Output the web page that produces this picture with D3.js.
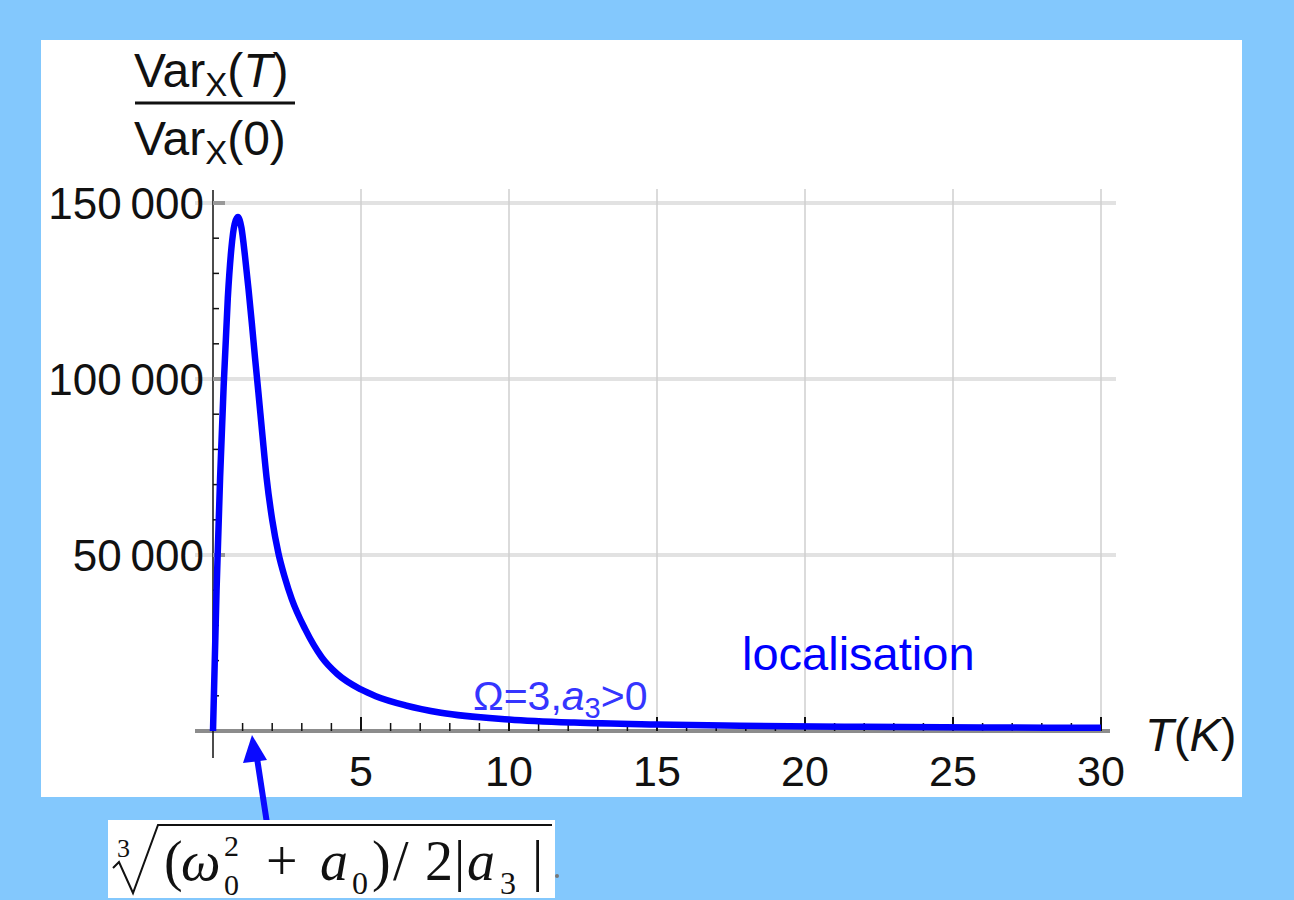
<!DOCTYPE html>
<html>
<head>
<meta charset="utf-8">
<script src="https://cdn.jsdelivr.net/npm/d3@7"></script>
<style>
  body { margin: 0; background: #83c8fd; }
  svg { display: block; }
  text { font-family: "Liberation Sans", Arial, sans-serif; }
  .serif { font-family: "Liberation Serif", "Times New Roman", serif; }
</style>
</head>
<body>
<svg id="chart" width="1294" height="900"></svg>
<script>
// values
var tempK = [0, 0.12, 0.24, 0.36, 0.5, 0.62, 0.73, 0.84, 0.96, 1.08, 1.2, 1.31, 1.42, 1.53, 1.67, 1.81, 2.0, 2.21, 2.43, 2.66, 3.11, 3.67, 4.2, 5, 5.5, 6.5, 7.7, 10, 12.2, 15, 17.8, 22, 26, 30];
var varRatio = [0, 40000, 72000, 98000, 123000, 137000, 144000, 146000, 143000, 135000, 125500, 116000, 106000, 96500, 84000, 72000, 60000, 50500, 43500, 37500, 29000, 21000, 16200, 11800, 9900, 7300, 5200, 3300, 2400, 1850, 1500, 1200, 1000, 900];
var xTicks = [5, 10, 15, 20, 25, 30];
var yTicks = [50000, 100000, 150000];
var curveLabel = "localisation";

var svg = d3.select("#chart");

svg.append("rect").attr("width", 1294).attr("height", 900).attr("fill", "#83c8fd");
svg.append("rect").attr("x", 41).attr("y", 40).attr("width", 1201).attr("height", 757).attr("fill", "#fff");

var x = d3.scaleLinear().domain([0, 30]).range([213, 1101]);
var y = d3.scaleLinear().domain([0, 150000]).range([731, 203]);

var fmt = d3.formatLocale({decimal: ".", thousands: "\u2009", grouping: [3], currency: ["", ""]}).format(",d");

// grid
svg.selectAll(".hgrid").data(yTicks).enter().append("line")
  .attr("x1", 195).attr("x2", 1116)
  .attr("y1", d => y(d)).attr("y2", d => y(d))
  .attr("stroke", "#e2e2e2").attr("stroke-width", 4);
svg.selectAll(".vgrid").data(xTicks).enter().append("line")
  .attr("x1", d => x(d)).attr("x2", d => x(d))
  .attr("y1", 189).attr("y2", 731)
  .attr("stroke", "#cfcfcf").attr("stroke-width", 1.5);

// x axis
svg.append("line").attr("x1", 195).attr("x2", 1110).attr("y1", 731).attr("y2", 731)
  .attr("stroke", "#8c8c8c").attr("stroke-width", 4);
var xMinor = d3.range(1, 31);
svg.selectAll(".xtick").data(xMinor).enter().append("line")
  .attr("x1", d => x(d)).attr("x2", d => x(d))
  .attr("y1", 731).attr("y2", d => d % 5 === 0 ? 717 : 723)
  .attr("stroke", "#111").attr("stroke-width", d => d % 5 === 0 ? 2 : 1.5);
svg.selectAll(".xlab").data(xTicks).enter().append("text")
  .attr("x", d => x(d)).attr("y", 786)
  .attr("text-anchor", "middle").attr("font-size", 43).attr("fill", "#111")
  .text(d => d);

// y axis
svg.append("line").attr("x1", 213).attr("x2", 213).attr("y1", 190).attr("y2", 758)
  .attr("stroke", "#111").attr("stroke-width", 1.5);
var yMinor = d3.range(10000, 150001, 10000);
svg.selectAll(".ytick").data(yMinor.filter(d => d % 50000 !== 0)).enter().append("line")
  .attr("x1", 213).attr("x2", 219)
  .attr("y1", d => y(d)).attr("y2", d => y(d))
  .attr("stroke", "#111").attr("stroke-width", 1.5);
svg.selectAll(".ymaj").data(yTicks).enter().append("line")
  .attr("x1", 213).attr("x2", 225)
  .attr("y1", d => y(d)).attr("y2", d => y(d))
  .attr("stroke", "#999").attr("stroke-width", 4);
svg.selectAll(".ylab").data(yTicks).enter().append("text")
  .attr("x", 204).attr("y", d => y(d) + 16)
  .attr("text-anchor", "end").attr("font-size", 44).attr("fill", "#111")
  .text(d => fmt(d));

// curve
var line = d3.line().x((d, i) => x(tempK[i])).y(d => y(d)).curve(d3.curveMonotoneX);
svg.append("path").datum(varRatio).attr("d", line)
  .attr("fill", "none").attr("stroke", "#0000ff").attr("stroke-width", 6.5)
  .attr("stroke-linejoin", "round");

// y title (fraction)
var num = svg.append("text").attr("x", 134).attr("y", 87).attr("font-size", 48).attr("fill", "#111");
num.append("tspan").text("Var");
num.append("tspan").attr("font-size", 33).attr("dy", 9).text("X");
num.append("tspan").attr("dy", -9).text("(");
num.append("tspan").attr("font-style", "italic").text("T");
num.append("tspan").text(")");
svg.append("line").attr("x1", 135).attr("x2", 295).attr("y1", 103).attr("y2", 103)
  .attr("stroke", "#111").attr("stroke-width", 3);
var den = svg.append("text").attr("x", 134).attr("y", 155).attr("font-size", 48).attr("fill", "#111");
den.append("tspan").text("Var");
den.append("tspan").attr("font-size", 33).attr("dy", 9).text("X");
den.append("tspan").attr("dy", -9).text("(0)");

// x title
var xt = svg.append("text").attr("x", 1145).attr("y", 751).attr("font-size", 47).attr("fill", "#111");
xt.append("tspan").attr("font-style", "italic").text("T");
xt.append("tspan").text("(");
xt.append("tspan").attr("font-style", "italic").text("K");
xt.append("tspan").text(")");

// annotations
svg.append("text").attr("x", 742).attr("y", 670).attr("font-size", 47).attr("fill", "#0000ff")
  .text(curveLabel);
var om = svg.append("text").attr("x", 473).attr("y", 710).attr("font-size", 41).attr("fill", "#3535ff");
om.append("tspan").text("\u03a9=3,");
om.append("tspan").attr("font-style", "italic").text("a");
om.append("tspan").attr("font-size", 29).attr("dy", 8).text("3");
om.append("tspan").attr("dy", -8).text(">0");

// arrow
svg.append("line").attr("x1", 270).attr("y1", 843).attr("x2", 257).attr("y2", 758)
  .attr("stroke", "#0a0aff").attr("stroke-width", 6).attr("stroke-linecap", "round");
svg.append("path").attr("d", "M252,735 L243,763 L267,760 Z").attr("fill", "#0a0aff");

// formula box
svg.append("rect").attr("x", 108).attr("y", 820).attr("width", 447).attr("height", 78).attr("fill", "#fff");
svg.append("path").attr("d", "M113,868 L119,862 L133,893 L158,825 L552,825")
  .attr("fill", "none").attr("stroke", "#111").attr("stroke-width", 2);
var glyphs = [
  {t: "3", x: 117, y: 857, s: 26},
  {t: "(", x: 164, y: 880, s: 56},
  {t: "\u03c9", x: 181, y: 880, s: 56, it: true},
  {t: "2", x: 224, y: 856, s: 30},
  {t: "0", x: 224, y: 895, s: 30},
  {t: "+", x: 266, y: 880, s: 56},
  {t: "a", x: 320, y: 880, s: 56, it: true},
  {t: "0", x: 352, y: 894, s: 32},
  {t: ")", x: 372, y: 880, s: 56},
  {t: "/", x: 393, y: 880, s: 56},
  {t: "2", x: 425, y: 880, s: 56},
  {t: "|", x: 454, y: 880, s: 56},
  {t: "a", x: 467, y: 880, s: 56, it: true},
  {t: "3", x: 500, y: 894, s: 32},
  {t: "|", x: 532, y: 880, s: 56}
];
svg.selectAll(".fg").data(glyphs).enter().append("text")
  .attr("class", "serif")
  .attr("x", d => d.x).attr("y", d => d.y)
  .attr("font-size", d => d.s)
  .attr("font-style", d => d.it ? "italic" : "normal")
  .attr("fill", "#111")
  .text(d => d.t);
svg.append("circle").attr("cx", 557).attr("cy", 876).attr("r", 2).attr("fill", "#777");
</script>
</body>
</html>
